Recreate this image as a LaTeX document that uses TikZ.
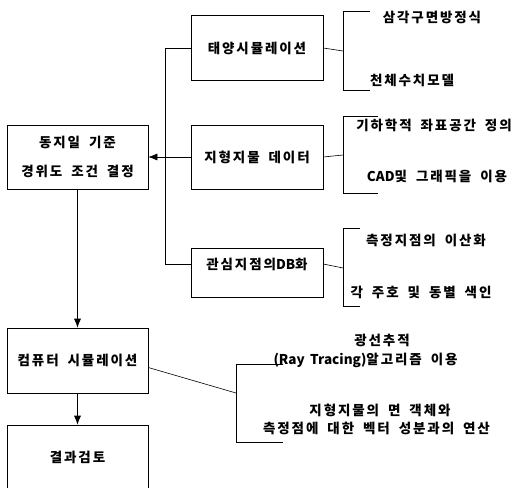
\documentclass[tikz,border=0pt]{standalone}
\usepackage{fontspec}
\setmainfont{Noto Sans CJK KR}[LetterSpace=14, WordSpace=1.8]
\usetikzlibrary{arrows.meta}

\newcommand{\lat}[1]{{\addfontfeature{LetterSpace=0}#1}}

\tikzset{
  box/.style={draw, minimum width=132pt, minimum height=65pt, inner sep=0pt},
  widebox/.style={box, minimum width=141pt},
  txt/.style={inner sep=0pt},
  arr/.style={-{Latex[length=9pt,width=7pt]}}
}

\begin{document}
\begin{tikzpicture}[x=1pt, y=-1pt, line width=0.6pt, font=\fontsize{13.5}{16}\selectfont\bfseries]
  \useasboundingbox (0,0) rectangle (529,487);
  % boxes
  \node[box] (sun) at (257,48) {태양시뮬레이션};
  \node[box, minimum height=64pt] (geo) at (257,157) {지형지물 데이터};
  \node[box, minimum height=49pt] (db) at (257,272.5) {};
  \node[txt] (dbtext) at (257,264) {관심지점의\lat{DB}화};
  \node[widebox, minimum height=64pt, align=center] (winter) at (77.5,157) {동지일 기준\\[13pt]경위도 조건 결정};
  \node[widebox] (sim) at (77.5,360.5) {컴퓨터 시뮬레이션};
  \node[widebox] (res) at (77.5,457.5) {결과검토};
  % left connectors
  \coordinate (bustop) at (165,48);
  \coordinate (busbot) at (165,264);
  \draw (sun.west) -- (bustop) -- (busbot) -- (busbot -| db.west);
  \draw[arr] (geo.west) -- (winter.east);
  \draw[arr] (winter.south) -- (sim.north);
  \draw[arr] (sim.south) -- (res.north);
  % brackets
  \coordinate (sunmid) at (343,51);
  \draw (sun.east) -- (sunmid);
  \draw (370,11) -- (343,11) -- (343,90) -- (370,90);
  \coordinate (geomid) at (343,155);
  \draw (geo.east) -- (geomid);
  \draw (378,116) -- (343,116) -- (343,193) -- (378,193);
  \coordinate (dbmid) at (343,268);
  \draw (busbot -| db.east) -- (dbmid);
  \draw (360,228) -- (343,228) -- (343,306) -- (360,306);
  \coordinate (simmid) at (236,393);
  \draw ([yshift=-7pt]sim.east) -- (simmid);
  \draw (283,364) -- (236,364) -- (236,442) -- (283,442);
  % texts
  \node[txt] (sunA) at (432,17) {삼각구면방정식};
  \node[txt] (sunB) at (412,80) {천체수치모델};
  \node[txt] (geoA) at (434,125) {기하학적 좌표공간 정의};
  \node[txt] (geoB) at (437,176) {\lat{CAD}및 그래픽을 이용};
  \node[txt] (dbA) at (426,240) {측정지점의 이산화};
  \node[txt] (dbB) at (421,292) {각 주호 및 동별 색인};
  \node[txt] (simA) at (382,340) {광선추적};
  \node[txt] (simB) at (365.5,360) {\lat{(Ray Tracing)}알고리즘 이용};
  \node[txt] (simC) at (380,410) {지형지물의 면 객체와};
  \node[txt] (simD) at (376.5,428) {측정점에 대한 벡터 성분과의 연산};
\end{tikzpicture}
\end{document}
